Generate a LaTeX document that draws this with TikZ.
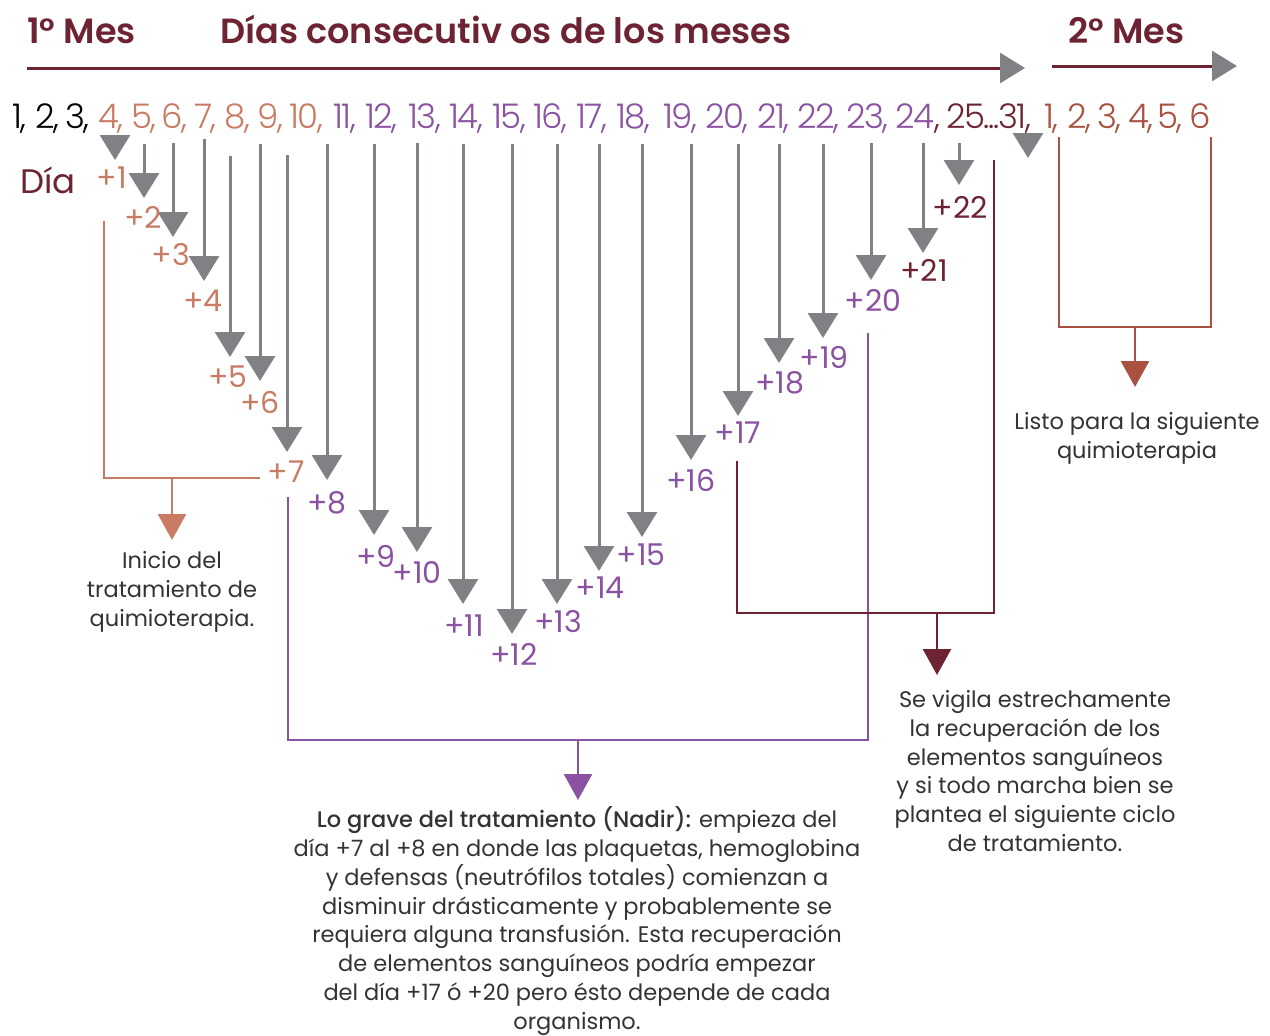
\documentclass[tikz,border=0pt]{standalone}
\usepackage{fontspec}
\IfFontExistsTF{Poppins SemiBold}
  {\setmainfont{Poppins}[BoldFont={Poppins SemiBold}]}
  {\setmainfont{Poppins}}
\IfFontExistsTF{Poppins Light}
  {\newfontfamily\lightfont{Poppins Light}}
  {\newfontfamily\lightfont{Poppins}}
\IfFontExistsTF{Poppins Medium}
  {\newfontfamily\medfont{Poppins Medium}}
  {\newfontfamily\medfont{Poppins}}
\usetikzlibrary{arrows.meta}

\definecolor{vino}{HTML}{6D2332}
\definecolor{salmon}{HTML}{C97B63}
\definecolor{morado}{HTML}{8B52A1}
\definecolor{ladrillo}{HTML}{A8523F}
\definecolor{gris}{HTML}{808184}
\definecolor{texto}{HTML}{333333}

\tikzset{
  titulo/.style={anchor=base west, inner sep=0pt, text=vino, font=\fontsize{35}{35}\selectfont\bfseries},
  numtok/.style={anchor=base west, inner sep=0pt, font=\lightfont\fontsize{34}{34}\selectfont\addfontfeature{LetterSpace=-4}},
  daylbl/.style={inner sep=0pt, font=\fontsize{30}{30}\selectfont},
  dayarrow/.style={draw=gris, line width=3pt, -{Triangle[width=30pt,length=25pt]}},
  bracket/.style={line width=2.6pt},
  bracketarrow/.style={line width=2.6pt, -{Triangle[width=28pt,length=26pt]}},
  nota/.style={align=center, inner sep=0pt, text=texto, font=\fontsize{22.5}{28.8}\selectfont}
}

\begin{document}
\begin{tikzpicture}[x=1pt,y=-1pt]
\useasboundingbox (0,0) rectangle (1270,1036);

% encabezado
\node[titulo] (mesuno) at (27,43) {1° Mes};
\node[titulo] (dias) at (220,43) {Días consecutiv os de los meses};
\node[titulo] (mesdos) at (1068,43) {2° Mes};

\draw[line width=3pt, vino, -{Triangle[width=30pt,length=25pt,color=gris]}] (27,68) -- (1025,68);
\draw[line width=3pt, vino, -{Triangle[width=30pt,length=25pt,color=gris]}] (1052,66) -- (1237,66);

% fila de dias
\foreach \t/\x/\c in {1/12/black,2/35/black,3/65/black,
  4/98/salmon,5/131/salmon,6/161/salmon,7/194/salmon,8/224/salmon,9/257/salmon,10/289/salmon,
  11/333/morado,12/365/morado,13/408/morado,14/449/morado,15/492/morado,16/533/morado,
  17/576/morado,18/616/morado,19/663/morado,20/705/morado,21/757/morado,22/797/morado,23/846/morado}
  \node[numtok,text=\c] (num\x) at (\x,128) {\t,};
\node[numtok,text=morado] (num895) at (895,128) {24};
\node[numtok,text=vino] (coma24) at (num895.base east) {,};
\node[numtok,text=vino] (num946) at (946,128) {25...31,};
\foreach \t/\x in {1/1044,2/1067,3/1097,4/1128,5/1157}
  \node[numtok,text=ladrillo] (mes\x) at (\x,128) {\t,};
\node[numtok,text=ladrillo] (mes1189) at (1189,128) {6};

\node[inner sep=0pt, text=vino, font=\fontsize{34}{34}\selectfont] (dia) at (48,180) {Día};

% flechas grises
\foreach \x/\ya/\yb in {115/135/160,144/144/198,173/143/237,204/139/281,230/156/357,
  260/144/381,287/155/452,327/144/480,374/144/535,417/143/552,463/144/604,512/144/634,
  557/144/604,599/144/571,642/144/537,691/144/460,738/144/416,779/144/363,823/144/338,
  871/143/280,923/143/253,959/143/185,1028/133/158}
  \draw[dayarrow] (\x,\ya) -- (\x,\yb);

% etiquetas +n
\foreach \n/\x/\y/\c in {1/112/178/salmon,2/143/217/salmon,3/171/255/salmon,4/203/301/salmon,
  5/228/377/salmon,6/260/402/salmon,7/286/472/salmon,8/327/503/morado,9/376/556/morado,
  10/417/572/morado,11/464/626/morado,12/514/654/morado,13/558/622/morado,14/600/588/morado,
  15/641/555/morado,16/691/480/morado,17/738/433/morado,18/780/383/morado,19/824/357/morado,
  20/873/300/morado,21/924/270/vino,22/960/207/vino}
  \node[daylbl,text=\c] (d\n) at (\x,\y) {+\n};

% corchetes
\draw[bracket, salmon] (104,221) -- (104,478) -- (260,478);
\draw[bracketarrow, salmon] (172,478) -- (172,540);

\draw[bracket, morado] (288,497) -- (288,740) -- (868,740) -- (868,333);
\draw[bracketarrow, morado] (578,740) -- (578,800);

\draw[bracket, vino] (737,461) -- (737,613) -- (994,613) -- (994,160);
\draw[bracketarrow, vino] (937,613) -- (937,675);

\draw[bracket, ladrillo] (1059,137) -- (1059,327) -- (1211,327) -- (1211,137);
\draw[bracketarrow, ladrillo] (1135,327) -- (1135,387);

% notas
\node[nota] (inicio) at (172,592) {Inicio del\\tratamiento de\\quimioterapia.};
\node[nota] (listo) at (1137,438) {Listo para la siguiente\\quimioterapia};
\node[nota] (vigila) at (1035,771) {Se vigila estrechamente\\la recuperación de los\\elementos sanguíneos\\y si todo marcha bien se\\plantea el siguiente ciclo\\de tratamiento.};
\node[nota] (grave) at (577,921) {{\medfont Lo grave del tratamiento (Nadir):} empieza del\\día +7 al +8 en donde las plaquetas, hemoglobina\\y defensas (neutrófilos totales) comienzan a\\disminuir drásticamente y probablemente se\\requiera alguna transfusión. Esta recuperación\\de elementos sanguíneos podría empezar\\del día +17 ó +20 pero ésto depende de cada\\organismo.};

\end{tikzpicture}
\end{document}
